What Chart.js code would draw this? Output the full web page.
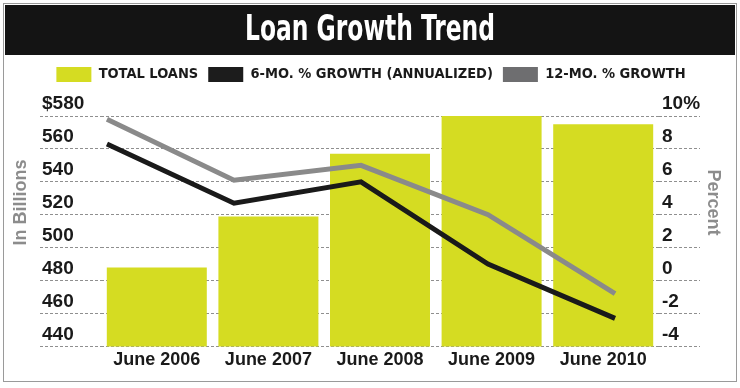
<!DOCTYPE html>
<html>
<head>
<meta charset="utf-8">
<title>Loan Growth Trend</title>
<script src="https://cdn.jsdelivr.net/npm/chart.js@4.4.1/dist/chart.umd.min.js"></script>
<style>
  html, body { margin: 0; padding: 0; background: #fff; }
  #wrap { width: 740px; height: 388px; }
</style>
</head>
<body>
<div id="wrap"><canvas id="loanChart" width="740" height="388"></canvas></div>
<script>
// data
const categories = ["June 2006", "June 2007", "June 2008", "June 2009", "June 2010"];
const totalLoans = [488, 519, 557, 580, 575];      // $ billions (left axis)
const growth6mo = [8.3, 4.7, 6.0, 1.0, -2.3];      // % annualized (right axis)
const growth12mo = [9.8, 6.1, 7.0, 4.0, -0.8];     // % (right axis)
const billionTicks = [440, 460, 480, 500, 520, 540, 560, 580];
const percentTicks = [-4, -2, 0, 2, 4, 6, 8, 10];
const seriesNames = ["TOTAL LOANS", "6-MO. % GROWTH (ANNUALIZED)", "12-MO. % GROWTH"];
const chartTitle = "Loan Growth Trend";

const GREEN = "#d5dc22";
const BLACK = "#1a1a1a";
const GRAY_LINE = "#8a8a8a";
const legendColors = [GREEN, "#1c1c1c", "#6e6e70"];
const NARROW = "'Liberation Sans Narrow', 'DejaVu Sans Condensed', 'Arial Narrow', sans-serif";
const SANS = "'Liberation Sans', Arial, sans-serif";

// the growth lines are spread a bit wider than the bars in the original
const lineSpan = { min: -0.047, max: 4.346 };

// frame + black title band (title text squeezed to look condensed)
const framePlugin = {
    id: "frame",
    beforeDraw(chart) {
        const ctx = chart.ctx;
        ctx.save();
        ctx.fillStyle = "#fff";
        ctx.fillRect(0, 0, chart.width, chart.height);
        ctx.strokeStyle = "#9a9a9a";
        ctx.lineWidth = 1;
        ctx.strokeRect(3.5, 3.5, chart.width - 7, chart.height - 10);
        ctx.fillStyle = "#141414";
        ctx.fillRect(5, 5, chart.width - 10, 50);

        ctx.font = "bold 36px " + NARROW;
        ctx.fillStyle = "#fff";
        ctx.textAlign = "center";
        ctx.textBaseline = "middle";
        const w = ctx.measureText(chartTitle).width;
        const sx = Math.min(1, 250 / w);
        ctx.translate(chart.width / 2, 31);
        ctx.scale(sx, 1);
        ctx.fillText(chartTitle, 0, 0);
        ctx.restore();
    }
};

// more room between legend and plot
const legendGap = {
    id: "legendGap",
    beforeInit(chart) {
        const fit = chart.legend.fit;
        chart.legend.fit = function () {
            fit.call(this);
            this.height += 24;
        };
    }
};

// axis titles sit above the middle of the plot, so draw them by hand
const sideTitles = {
    id: "sideTitles",
    afterDraw(chart) {
        const { ctx, chartArea, scales } = chart;
        const cy = chartArea.top + chartArea.height * 0.375;
        ctx.save();
        ctx.font = "bold 18px " + SANS;
        ctx.fillStyle = "#8c8c8c";
        ctx.textAlign = "center";
        ctx.textBaseline = "middle";

        ctx.save();
        ctx.translate(scales.y.left - 21, cy);
        ctx.rotate(-Math.PI / 2);
        ctx.fillText("In Billions", 0, 0);
        ctx.restore();

        ctx.save();
        ctx.translate(scales.y1.right + 13, cy);
        ctx.rotate(Math.PI / 2);
        ctx.fillText("Percent", 0, 0);
        ctx.restore();

        ctx.restore();
    }
};

const gridStyle = {
    color: "#8f8f8f",
    lineWidth: 1,
    tickBorderDash: [3, 2]
};

new Chart(document.getElementById("loanChart"), {
    data: {
        labels: categories,
        datasets: [
            {
                type: "bar",
                label: seriesNames[0],
                data: totalLoans,
                backgroundColor: GREEN,
                borderWidth: 0,
                grouped: false,
                barPercentage: 0.896,
                categoryPercentage: 1,
                xAxisID: "x",
                yAxisID: "y",
                order: 3
            },
            {
                type: "line",
                label: seriesNames[1],
                data: growth6mo.map((v, i) => ({ x: i, y: v })),
                borderColor: BLACK,
                backgroundColor: BLACK,
                borderWidth: 5,
                pointRadius: 0,
                tension: 0,
                xAxisID: "x2",
                yAxisID: "y1",
                order: 1
            },
            {
                type: "line",
                label: seriesNames[2],
                data: growth12mo.map((v, i) => ({ x: i, y: v })),
                borderColor: GRAY_LINE,
                backgroundColor: GRAY_LINE,
                borderWidth: 5,
                pointRadius: 0,
                tension: 0,
                xAxisID: "x2",
                yAxisID: "y1",
                order: 2
            }
        ]
    },
    options: {
        responsive: false,
        animation: false,
        devicePixelRatio: 1,
        layout: {
            padding: { top: 57, left: 42, right: 40, bottom: 14 }
        },
        scales: {
            x: {
                type: "category",
                grid: { display: false, drawTicks: false },
                border: { display: false },
                ticks: {
                    color: BLACK,
                    padding: 3,
                    maxRotation: 0,
                    font: { family: SANS, size: 18, weight: "bold" }
                }
            },
            x2: {
                type: "linear",
                display: false,
                min: lineSpan.min,
                max: lineSpan.max
            },
            y: {
                position: "left",
                min: billionTicks[0],
                max: billionTicks[billionTicks.length - 1],
                afterBuildTicks: s => { s.ticks = billionTicks.map(v => ({ value: v })); },
                afterFit: s => { s.width = 59; },
                grid: Object.assign({ drawOnChartArea: true, drawTicks: true, tickLength: 61 }, gridStyle),
                border: { display: false, dash: [3, 2] },
                ticks: {
                    color: BLACK,
                    autoSkip: false,
                    crossAlign: "far",
                    labelOffset: -12,
                    font: { family: SANS, size: 19, weight: "bold" },
                    callback: v => (v === 580 ? "$" + v : String(v))
                }
            },
            y1: {
                position: "right",
                min: percentTicks[0],
                max: percentTicks[percentTicks.length - 1],
                afterBuildTicks: s => { s.ticks = percentTicks.map(v => ({ value: v })); },
                afterFit: s => { s.width = 41; },
                grid: Object.assign({ drawOnChartArea: false, drawTicks: true, tickLength: 41 }, gridStyle),
                border: { display: false, dash: [3, 2] },
                ticks: {
                    color: BLACK,
                    autoSkip: false,
                    crossAlign: "near",
                    padding: -38,
                    labelOffset: -12,
                    font: { family: SANS, size: 19, weight: "bold" },
                    callback: v => (v === 10 ? v + "%" : String(v))
                }
            }
        },
        plugins: {
            title: { display: false },
            legend: {
                position: "top",
                labels: {
                    boxWidth: 35,
                    boxHeight: 15,
                    padding: 10,
                    color: BLACK,
                    font: { family: NARROW, size: 14.5, weight: "bold" },
                    sort: (a, b) => a.datasetIndex - b.datasetIndex,
                    generateLabels(chart) {
                        const items = Chart.defaults.plugins.legend.labels.generateLabels(chart);
                        items.forEach(it => {
                            it.fillStyle = legendColors[it.datasetIndex];
                            it.strokeStyle = legendColors[it.datasetIndex];
                            it.lineWidth = 0;
                        });
                        return items;
                    }
                }
            },
            tooltip: { enabled: false }
        }
    },
    plugins: [framePlugin, legendGap, sideTitles]
});
</script>
</body>
</html>
